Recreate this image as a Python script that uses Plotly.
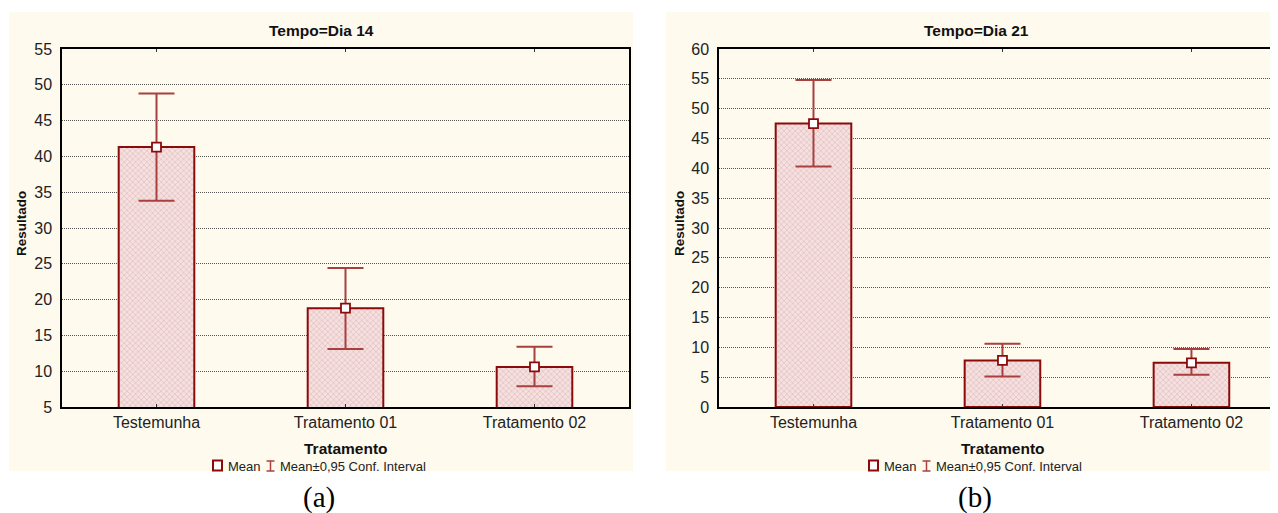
import plotly.graph_objects as go

# The page body has an 8px margin, so the figure is made 8px smaller and all
# pixel positions below are given in window coordinates, shifted by OFF.
WIN_W, WIN_H = 1278, 513
OFF = 8
W, H = WIN_W - OFF, WIN_H - OFF

categories = ["Testemunha", "Tratamento 01", "Tratamento 02"]

# Panel (a): Tempo = Dia 14
mean_d14 = [41.3, 18.8, 10.6]
upper_d14 = [48.8, 24.4, 13.4]
lower_d14 = [33.8, 13.1, 7.9]

# Panel (b): Tempo = Dia 21
mean_d21 = [47.5, 7.8, 7.4]
upper_d21 = [54.8, 10.6, 9.7]
lower_d21 = [40.3, 5.1, 5.4]

titles = ["Tempo=Dia 14", "Tempo=Dia 21"]
captions = ["(a)", "(b)"]
yticks_a = list(range(5, 56, 5))
yticks_b = list(range(0, 61, 5))

SANS = "Liberation Sans, Arial, sans-serif"
SERIF = "Liberation Serif, Times New Roman, serif"
CREAM = "#FFFAEE"
DARKRED = "#8B0A0A"
ERRC = "#A84040"


def px(x):
    return (x - OFF) / W


def py(y):
    return 1 - (y - OFF) / H


fig = go.Figure()

panels = [
    dict(mean=mean_d14, up=upper_d14, lo=lower_d14, xa="x", ya="y"),
    dict(mean=mean_d21, up=upper_d21, lo=lower_d21, xa="x2", ya="y2"),
]

for p in panels:
    fig.add_trace(go.Bar(
        x=categories, y=p["mean"], xaxis=p["xa"], yaxis=p["ya"],
        width=0.4,
        marker=dict(color="#F5E0E0", line=dict(color=DARKRED, width=2),
                    pattern=dict(shape="x", size=4, solidity=0.35,
                                 fgcolor="#D6A0A0", bgcolor="#F5E0E0")),
        showlegend=False, hoverinfo="skip",
    ))
    fig.add_trace(go.Scatter(
        x=categories, y=p["mean"], xaxis=p["xa"], yaxis=p["ya"],
        mode="markers",
        marker=dict(symbol="square", size=9, color="white",
                    line=dict(color=DARKRED, width=1.8)),
        error_y=dict(type="data", symmetric=False,
                     array=[u - m for u, m in zip(p["up"], p["mean"])],
                     arrayminus=[m - l for m, l in zip(p["mean"], p["lo"])],
                     color=ERRC, thickness=2, width=18),
        showlegend=False, hoverinfo="skip",
    ))

# panel geometry (window pixels)
cream = [(9, 12, 633, 471), (666, 12, 1278, 471)]
centers = [321, 977]
plot_centers = [(62 + 629) / 2, (719 + 1286) / 2]
ytitle_x = [22, 680]
plot_top, plot_bot = 49, 407

shapes = []
annotations = []


def ann(text, x, y, size, family=SANS, color="#111", xanchor="center", angle=0):
    annotations.append(dict(text=text, xref="paper", yref="paper",
                            x=px(x), y=py(y), xanchor=xanchor, yanchor="middle",
                            showarrow=False, textangle=angle,
                            font=dict(family=family, size=size, color=color)))


for i in range(2):
    x0, y0, x1, y1 = cream[i]
    shapes.append(dict(type="rect", xref="paper", yref="paper",
                       x0=px(x0), x1=px(x1), y0=py(y1), y1=py(y0),
                       fillcolor=CREAM, line=dict(width=0), layer="below"))
    c = centers[i]
    ann("<b>" + titles[i] + "</b>", c, 30, 15.5)
    ann("<b>Tratamento</b>", plot_centers[i], 448, 15.5)
    ann("<b>Resultado</b>", ytitle_x[i], (plot_top + plot_bot) / 2 - 4, 13.5, angle=-90)
    # legend
    shapes.append(dict(type="rect", xref="paper", yref="paper",
                       x0=px(c - 108), x1=px(c - 99), y0=py(470.5), y1=py(460.5),
                       fillcolor="white", line=dict(color=DARKRED, width=2)))
    ann("Mean", c - 95, 466, 13, color="#222", xanchor="left")
    ix = c - 50.5
    shapes.append(dict(type="line", xref="paper", yref="paper",
                       x0=px(ix), x1=px(ix), y0=py(471), y1=py(461),
                       line=dict(color=ERRC, width=1.5)))
    for yy in (461, 471):
        shapes.append(dict(type="line", xref="paper", yref="paper",
                           x0=px(ix - 4), x1=px(ix + 4), y0=py(yy), y1=py(yy),
                           line=dict(color=ERRC, width=1.5)))
    ann("Mean±0,95 Conf. Interval", c - 43, 466, 13, color="#222", xanchor="left")
    ann(captions[i], c - 2, 497, 29, family=SERIF, color="#000")

xcommon = dict(type="category", showline=True, linecolor="#000", linewidth=1.5,
               mirror="ticks", ticks="inside", ticklen=3, tickcolor="#333",
               showgrid=False, zeroline=False, automargin=False,
               tickfont=dict(family=SANS, size=16, color="#222"))
ycommon = dict(showline=True, linecolor="#000", linewidth=1.5, ticks="",
               showgrid=True, gridcolor="#555", griddash="1px,1px", gridwidth=1,
               zeroline=False, dtick=5, automargin=False, ticklabelstandoff=5,
               tickfont=dict(family=SANS, size=16, color="#222"))

ydom = [py(plot_bot), py(plot_top)]

fig.update_layout(
    width=W, height=H,
    margin=dict(l=0, r=0, t=0, b=0, pad=0, autoexpand=False),
    paper_bgcolor="white", plot_bgcolor="white",
    showlegend=False,
    xaxis=dict(xcommon, domain=[px(62), px(629)], range=[-0.5, 2.5], anchor="y"),
    yaxis=dict(ycommon, domain=ydom, range=[5, 55], tickvals=yticks_a, anchor="x",
               mirror=True),
    xaxis2=dict(xcommon, domain=[px(719), 1.0], range=[-0.5, 2.458], anchor="y2"),
    yaxis2=dict(ycommon, domain=ydom, range=[0, 60], tickvals=yticks_b, anchor="x2",
                mirror=False),
    shapes=shapes,
    annotations=annotations,
)

fig.write_html("out.html")
